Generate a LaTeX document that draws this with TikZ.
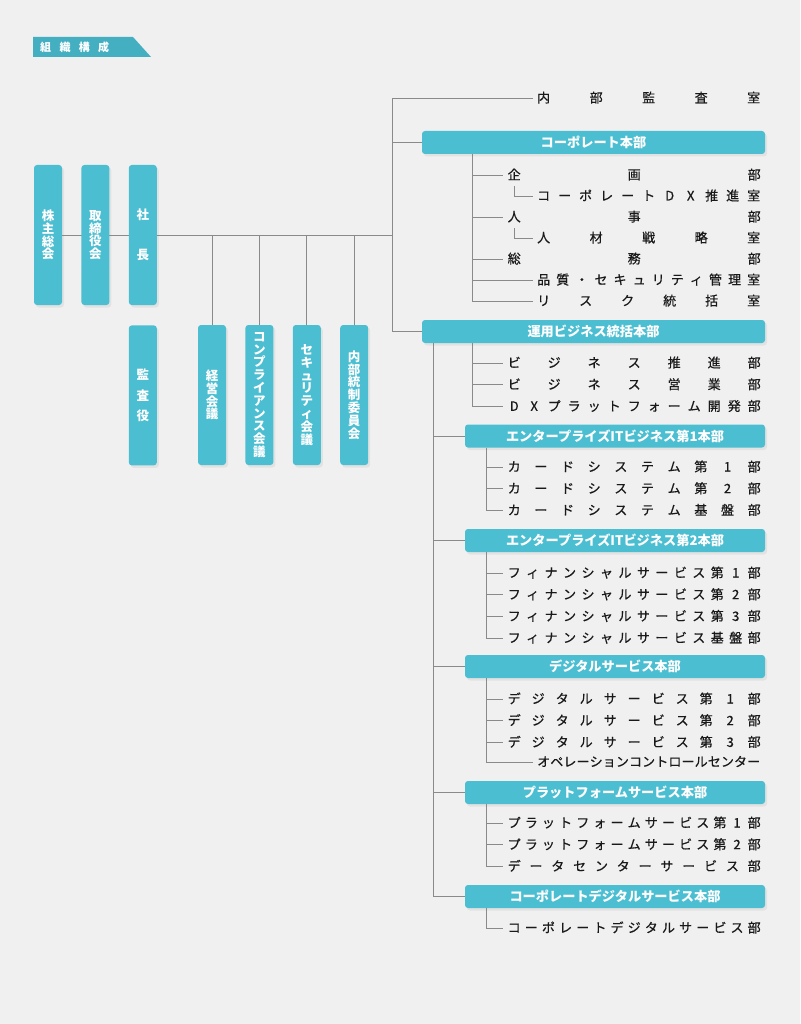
\documentclass[tikz,border=0pt]{standalone}
\usepackage{fontspec}
\setmainfont{Noto Sans CJK JP}
\newfontfamily\unitfont[FakeBold=0.6]{Noto Sans CJK JP}
\usetikzlibrary{positioning,shadows,backgrounds}

\definecolor{bgcol}{HTML}{F0F0F0}
\definecolor{boxcol}{HTML}{4CBED1}
\definecolor{tagcol}{HTML}{45AFC2}
\definecolor{wirecol}{HTML}{8A8A8A}

% spread the characters of #2 evenly over a box of width #1
\newcommand\spr[2][253pt]{\hbox to #1{\sprA#2\relax}}
\def\sprA#1#2{\makebox[1em]{#1}\ifx#2\relax\else\hfill\expandafter\sprA\expandafter#2\fi}

\tikzset{
  board/.style={rectangle,rounded corners=3pt,fill=boxcol,text=white,
    font=\bfseries\fontsize{12.5}{12.8}\selectfont,align=center,
    minimum width=28pt,minimum height=140pt,inner sep=0pt,
    drop shadow={opacity=.12,shadow xshift=2pt,shadow yshift=-2.5pt}},
  hq/.style={rectangle,rounded corners=3pt,fill=boxcol,text=white,
    font=\bfseries\fontsize{13.2}{15}\selectfont,minimum height=23pt,inner sep=0pt,
    drop shadow={opacity=.12,shadow xshift=2pt,shadow yshift=-2.5pt}},
  unit/.style={inner sep=0pt,text height=11pt,text depth=2pt,anchor=west,
    text=black!90,font=\unitfont\fontsize{13}{15}\selectfont},
  wire/.style={draw=wirecol,line width=.9pt},
  link/.style={wire,shorten >=4.5pt},
}

\begin{document}
\begin{tikzpicture}[x=1pt,y=-1pt,node distance=8.3pt]
\useasboundingbox (0,0) rectangle (800,1024);

% title tag
\fill[tagcol] (33,37) -- (133,37) -- (151,57) -- (33,57) -- cycle;
\node[font=\bfseries\fontsize{11}{11}\selectfont,text=white,inner sep=0pt,anchor=west] (title) at (40,47) {\spr[69pt]{組織構成}};

% top management
\node[board] (kabu) at (48,235) {株\\主\\総\\会};
\node[board] (tori) [right=19pt of kabu] {取\\締\\役\\会};
\node[board] (shacho) [right=19pt of tori] {社\\[27pt]長};
\node[board] (kansa) [below=20pt of shacho] {監\\[7.7pt]査\\[7.7pt]役};
\node[board] (keiei) at (212,395) {経\\営\\会\\議};
\node[board] (compl) [right=19pt of keiei] {コ\\ン\\プ\\ラ\\イ\\ア\\ン\\ス\\会\\議};
\node[board] (secu) [right=19pt of compl] {セ\\キ\\ュ\\リ\\テ\\ィ\\会\\議};
\node[board] (naitou) [right=19pt of secu] {内\\部\\統\\制\\委\\員\\会};

% head offices
\node[hq,minimum width=343pt] (corp) at (593.5,142.5) {コーポレート本部};
\node[hq,minimum width=343pt] (unyo) at (593.5,331.5) {運用ビジネス統括本部};
\node[hq,minimum width=300pt] (ent1) at (615,436) {エンタープライズITビジネス第1本部};
\node[hq,minimum width=300pt] (ent2) at (615,540.5) {エンタープライズITビジネス第2本部};
\node[hq,minimum width=300pt] (digi) at (615,666.5) {デジタルサービス本部};
\node[hq,minimum width=300pt] (plat) at (615,792.5) {プラットフォームサービス本部};
\node[hq,minimum width=300pt] (cdig) at (615,896.5) {コーポレートデジタルサービス本部};

% departments
\node[unit] (naibu) at (537,98) {\spr[223pt]{内部監査室}};

\node[unit] (c1) at (507.5,175) {\spr{企画部}};
\node[unit] (c2) at (537,196) {\spr[223pt]{コーポレートDX推進室}};
\node[unit] (c3) at (507.5,217) {\spr{人事部}};
\node[unit] (c4) at (537,238) {\spr[223pt]{人材戦略室}};
\node[unit] (c5) at (507.5,259) {\spr{総務部}};
\node[unit] (c6) at (537,280) {\spr[223pt]{品質・セキュリティ管理室}};
\node[unit] (c7) at (537,301) {\spr[223pt]{リスク統括室}};

\node[unit] (u1) at (507.5,363) {\spr{ビジネス推進部}};
\node[unit] (u2) [below=of u1] {\spr{ビジネス営業部}};
\node[unit] (u3) [below=of u2] {\spr{DXプラットフォーム開発部}};

\node[unit] (e1) at (507.5,467) {\spr{カードシステム第1部}};
\node[unit] (e2) [below=of e1] {\spr{カードシステム第2部}};
\node[unit] (e3) [below=of e2] {\spr{カードシステム基盤部}};

\node[unit] (f1) at (507.5,573) {\spr{フィナンシャルサービス第1部}};
\node[unit] (f2) [below=of f1] {\spr{フィナンシャルサービス第2部}};
\node[unit] (f3) [below=of f2] {\spr{フィナンシャルサービス第3部}};
\node[unit] (f4) [below=of f3] {\spr{フィナンシャルサービス基盤部}};

\node[unit] (g1) at (507.5,699) {\spr{デジタルサービス第1部}};
\node[unit] (g2) [below=of g1] {\spr{デジタルサービス第2部}};
\node[unit] (g3) [below=of g2] {\spr{デジタルサービス第3部}};
\node[unit] (g4) at (537,762) {\spr[223pt]{オペレーションコントロールセンター}};

\node[unit] (p1) at (507.5,823) {\spr{プラットフォームサービス第1部}};
\node[unit] (p2) [below=of p1] {\spr{プラットフォームサービス第2部}};
\node[unit] (p3) [below=of p2] {\spr{データセンターサービス部}};

\node[unit] (h1) at (507.5,928) {\spr{コーポレートデジタルサービス部}};

% connectors
\begin{scope}[on background layer]
  \fill[bgcol] (0,0) rectangle (800,1024);
  \coordinate (j) at (392,235);
  \draw[wire] (kabu.east) -- (j);
  \foreach \n in {keiei,compl,secu,naitou}
    \draw[wire] (\n.north) -- (\n.north |- j);
  \draw[link] (j) |- (naibu.west);
  \draw[wire] (j) |- (corp.west);
  \draw[wire] (j) |- (unyo.west);

  \coordinate (cs) at ([xshift=51pt]corp.south west);
  \foreach \n in {c1,c3,c5,c6,c7}
    \draw[link] (cs) |- (\n.west);
  \draw[link] ([xshift=7pt,yshift=-4.5pt]c1.south west) |- (c2.west);
  \draw[link] ([xshift=7pt,yshift=-4.5pt]c3.south west) |- (c4.west);

  \coordinate (us) at ([xshift=51pt]unyo.south west);
  \foreach \n in {u1,u2,u3}
    \draw[link] (us) |- (\n.west);
  \coordinate (up) at ([xshift=12pt]unyo.south west);
  \foreach \n in {ent1,ent2,digi,plat,cdig}
    \draw[wire] (up) |- (\n.west);

  \foreach \n in {e1,e2,e3}
    \draw[link] ([xshift=22pt]ent1.south west) |- (\n.west);
  \foreach \n in {f1,f2,f3,f4}
    \draw[link] ([xshift=22pt]ent2.south west) |- (\n.west);
  \foreach \n in {g1,g2,g3,g4}
    \draw[link] ([xshift=22pt]digi.south west) |- (\n.west);
  \foreach \n in {p1,p2,p3}
    \draw[link] ([xshift=22pt]plat.south west) |- (\n.west);
  \draw[link] ([xshift=22pt]cdig.south west) |- (h1.west);
\end{scope}
\end{tikzpicture}
\end{document}
